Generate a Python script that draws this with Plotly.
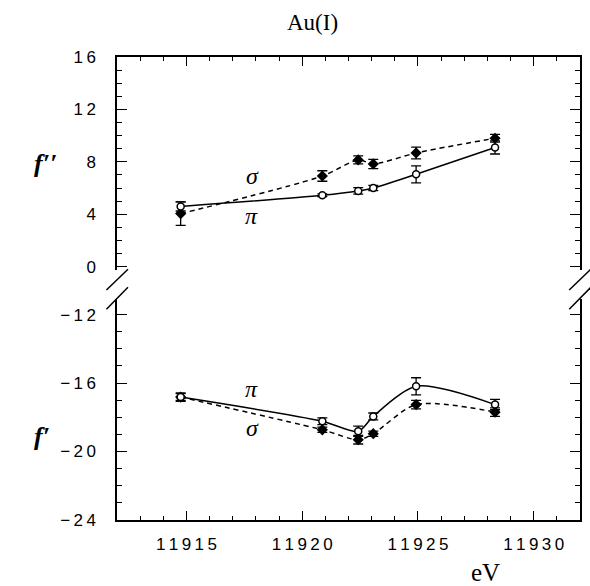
import plotly.graph_objects as go

# ---- data ----
energy = [11914.75, 11920.87, 11922.42, 11923.07, 11924.92, 11928.33]

fpp_pi = [4.6, 5.45, 5.78, 6.0, 7.05, 9.1]
fpp_pi_err = [0.35, 0.1, 0.25, 0.2, 0.65, 0.5]
fpp_sigma = [4.05, 6.92, 8.15, 7.84, 8.68, 9.8]
fpp_sigma_err = [0.9, 0.4, 0.3, 0.35, 0.45, 0.3]

fp_pi = [-16.82, -18.23, -18.82, -17.95, -16.19, -17.26]
fp_pi_err = [0.2, 0.2, 0.3, 0.2, 0.5, 0.3]
fp_sigma = [-16.82, -18.73, -19.31, -18.96, -17.26, -17.7]
fp_sigma_err = [0.25, 0.15, 0.25, 0.15, 0.25, 0.25]

x_ticks = [11915, 11920, 11925, 11930]
x_ticklabels = ["1\u20091\u20099\u20091\u20095", "1\u20091\u20099\u20092\u20090",
                "1\u20091\u20099\u20092\u20095", "1\u20091\u20099\u20093\u20090"]
top_ticks = [0, 4, 8, 12, 16]
top_ticklabels = ["0", "4", "8", "1\u20092", "1\u20096"]
bot_ticks = [-24, -20, -16, -12]
bot_ticklabels = ["\u2212\u20092\u20094", "\u2212\u20092\u20090", "\u2212\u20091\u20096", "\u2212\u20091\u20092"]

INK = "black"
tick_font = dict(family="Liberation Sans, Arial, sans-serif", size=17, color=INK)


def series(x, y, err, dashed, filled, xa, ya):
    return go.Scatter(
        x=x, y=y, xaxis=xa, yaxis=ya,
        mode="lines+markers",
        line=dict(color=INK, width=1.5, dash="5px,4px" if dashed else "solid",
                  shape="spline", smoothing=0.8),
        marker=dict(symbol="diamond" if filled else "circle", size=7,
                    color=INK if filled else "white", line=dict(color=INK, width=1.5)),
        error_y=dict(type="data", array=err, visible=True, color=INK,
                     thickness=1.3, width=5),
        showlegend=False, hoverinfo="skip",
    )


fig = go.Figure()
fig.add_trace(series(energy, fpp_sigma, fpp_sigma_err, True, True, "x2", "y2"))
fig.add_trace(series(energy, fpp_pi, fpp_pi_err, False, False, "x2", "y2"))
fig.add_trace(series(energy, fp_sigma, fp_sigma_err, True, True, "x", "y"))
fig.add_trace(series(energy, fp_pi, fp_pi_err, False, False, "x", "y"))

common_axis = dict(showgrid=False, zeroline=False, showline=True, linecolor=INK,
                   linewidth=1.5, ticks="inside", tickcolor=INK, tickwidth=1.3,
                   tickfont=tick_font)

fig.update_layout(
    width=590, height=586,
    margin=dict(l=117, r=8, t=57, b=66),
    paper_bgcolor="white", plot_bgcolor="white",
    xaxis=dict(**common_axis, domain=[0, 1], range=[11912, 11932], anchor="y",
               tickmode="array", tickvals=x_ticks, ticktext=x_ticklabels, ticklen=9,
               ticklabelstandoff=8,
               minor=dict(ticks="inside", ticklen=4, tickmode="linear", tick0=11912,
                          dtick=1, tickcolor=INK, tickwidth=1)),
    xaxis2=dict(**common_axis, domain=[0, 1], range=[11912, 11932], anchor="y2",
                side="top", matches="x", showticklabels=False,
                tickmode="array", tickvals=x_ticks, ticklen=9,
                minor=dict(ticks="inside", ticklen=4, tickmode="linear", tick0=11912,
                           dtick=1, tickcolor=INK, tickwidth=1)),
    yaxis=dict(**common_axis, domain=[0, 0.477], range=[-24, -11.1], anchor="x",
               mirror="ticks", tickmode="array", tickvals=bot_ticks,
               ticktext=bot_ticklabels, ticklen=10, ticklabelstandoff=16,
               minor=dict(ticks="inside", ticklen=5, tickmode="linear", tick0=-24,
                          dtick=1, tickcolor=INK, tickwidth=1)),
    yaxis2=dict(**common_axis, domain=[0.54, 1], range=[-0.25, 16], anchor="x2",
                mirror="ticks", tickmode="array", tickvals=top_ticks,
                ticktext=top_ticklabels, ticklen=10, ticklabelstandoff=16,
                minor=dict(ticks="inside", ticklen=5, tickmode="linear", tick0=0,
                           dtick=1, tickcolor=INK, tickwidth=1)),
)

# axis-break marks (decoration)
for x0, x1 in [(-0.0228, 0.0237), (0.9767, 1.0233)]:
    for y0, y1 in [(0.4968, 0.5415), (0.4551, 0.5026)]:
        fig.add_shape(type="line", xref="paper", yref="paper", x0=x0, y0=y0, x1=x1, y1=y1,
                      line=dict(color=INK, width=1.5))

serif = "Liberation Serif, Times New Roman, serif"
ann = [
    dict(text="Au(I)", xref="paper", yref="paper", x=(313 - 117) / 465, y=(520 - 22) / 463,
         font=dict(family=serif, size=23, color=INK)),
    dict(text="eV", xref="paper", yref="paper", x=(487 - 117) / 465, y=(520 - 572) / 463,
         font=dict(family=serif, size=25, color=INK)),
    dict(text="<b><i>f\u2032\u2032</i></b>", xref="paper", yref="paper",
         x=(45 - 117) / 465, y=(520 - 163) / 463, font=dict(family=serif, size=26, color=INK)),
    dict(text="<b><i>f\u2032</i></b>", xref="paper", yref="paper",
         x=(42 - 117) / 465, y=(520 - 436) / 463, font=dict(family=serif, size=26, color=INK)),
    dict(text="<i>\u03c3</i>", xref="x2", yref="y2", x=11917.85, y=6.95,
         font=dict(family=serif, size=24, color=INK)),
    dict(text="<i>\u03c0</i>", xref="x2", yref="y2", x=11917.8, y=3.85,
         font=dict(family=serif, size=24, color=INK)),
    dict(text="<i>\u03c0</i>", xref="x", yref="y", x=11917.8, y=-16.35,
         font=dict(family=serif, size=24, color=INK)),
    dict(text="<i>\u03c3</i>", xref="x", yref="y", x=11917.85, y=-18.65,
         font=dict(family=serif, size=24, color=INK)),
]
for a in ann:
    fig.add_annotation(showarrow=False, xanchor="center", yanchor="middle", **a)

fig.write_html("out.html", config={"displayModeBar": False},
               post_script="document.body.style.margin='0';document.body.style.padding='0';")
